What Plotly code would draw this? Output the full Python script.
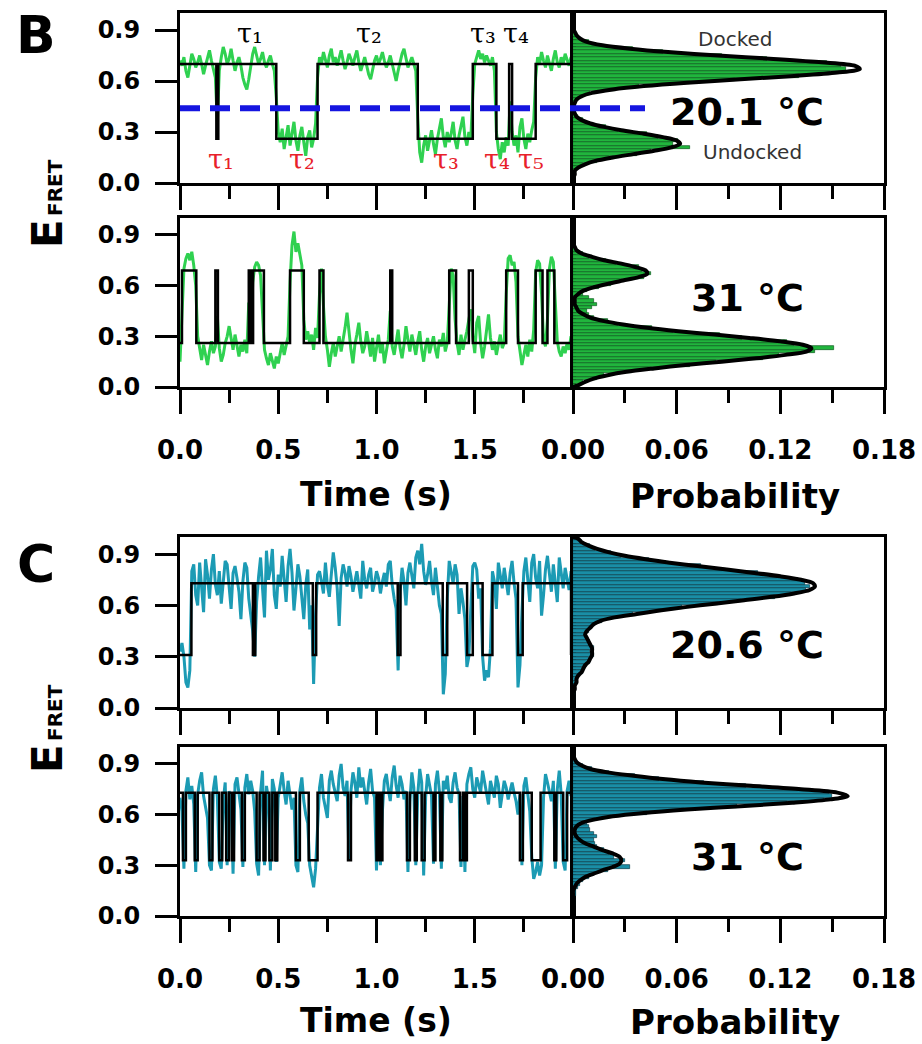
import plotly.graph_objects as go

W, H = 922, 1044
STEP = 0.01  # sampling interval of the smFRET traces (s)

# ---------------- Panel B (green) ----------------
b20_trace = [
    0.72, 0.69, 0.74, 0.66, 0.62, 0.70, 0.76, 0.73, 0.68, 0.71,
    0.75, 0.70, 0.64, 0.69, 0.74, 0.78, 0.72, 0.67, 0.62, 0.36,
    0.66, 0.74, 0.80, 0.76, 0.70, 0.73, 0.79, 0.72, 0.66, 0.71,
    0.74, 0.69, 0.62, 0.58, 0.55, 0.61, 0.68, 0.76, 0.80, 0.74,
    0.70, 0.73, 0.77, 0.71, 0.68, 0.72, 0.75, 0.70, 0.66, 0.50,
    0.30, 0.24, 0.32, 0.20, 0.27, 0.34, 0.22, 0.29, 0.36, 0.25,
    0.19, 0.28, 0.33, 0.24, 0.16, 0.27, 0.31, 0.21, 0.26, 0.35,
    0.62, 0.74, 0.70, 0.77, 0.72, 0.68, 0.75, 0.79, 0.71, 0.74,
    0.69, 0.73, 0.78, 0.72, 0.67, 0.71, 0.76, 0.73, 0.69, 0.74,
    0.78, 0.71, 0.66, 0.70, 0.74, 0.69, 0.64, 0.61, 0.67, 0.72,
    0.75, 0.70, 0.73, 0.77, 0.72, 0.68, 0.71, 0.75, 0.70, 0.65,
    0.60, 0.66, 0.72, 0.76, 0.79, 0.73, 0.68, 0.71, 0.74, 0.70,
    0.66, 0.38, 0.18, 0.12, 0.22, 0.28, 0.19, 0.25, 0.31, 0.23,
    0.17, 0.26, 0.33, 0.38, 0.27, 0.21, 0.30, 0.24, 0.29, 0.36,
    0.25, 0.20, 0.28, 0.34, 0.39, 0.27, 0.22, 0.30, 0.26, 0.52,
    0.70, 0.74, 0.78, 0.73, 0.76, 0.71, 0.75, 0.72, 0.69, 0.74,
    0.66, 0.30, 0.20, 0.14, 0.24, 0.18, 0.27, 0.22, 0.48, 0.30,
    0.22, 0.28, 0.18, 0.33, 0.38, 0.26, 0.20, 0.29, 0.24, 0.31,
    0.36, 0.62, 0.74, 0.70, 0.77, 0.72, 0.68, 0.75, 0.71, 0.66,
    0.73, 0.78, 0.71, 0.68, 0.74, 0.70, 0.76, 0.72, 0.69, 0.74,
]
b20_ideal_t = [0, 0.185, 0.195, 0.49, 0.70, 1.21, 1.49, 1.61, 1.675, 1.69, 1.81, 1.99]
b20_ideal_e = [0.70, 0.26, 0.70, 0.26, 0.70, 0.26, 0.70, 0.26, 0.70, 0.26, 0.70, 0.70]

b31_trace = [
    0.15, 0.40, 0.70, 0.76, 0.79, 0.75, 0.80, 0.72, 0.60, 0.30,
    0.22, 0.16, 0.25, 0.19, 0.13, 0.21, 0.27, 0.20, 0.24, 0.42,
    0.23, 0.15, 0.19, 0.26, 0.30, 0.36, 0.29, 0.22, 0.31, 0.24,
    0.18, 0.25, 0.21, 0.28, 0.20, 0.50, 0.30, 0.62, 0.71, 0.74,
    0.72, 0.66, 0.45, 0.22, 0.17, 0.13, 0.20, 0.15, 0.11, 0.18,
    0.14, 0.20, 0.26, 0.19, 0.24, 0.30, 0.62, 0.84, 0.92, 0.80,
    0.85, 0.78, 0.72, 0.40, 0.28, 0.33, 0.26, 0.31, 0.22, 0.35,
    0.29, 0.55, 0.70, 0.48, 0.30, 0.22, 0.12, 0.20, 0.26, 0.18,
    0.24, 0.30, 0.21, 0.27, 0.35, 0.44, 0.32, 0.22, 0.14, 0.25,
    0.31, 0.38, 0.27, 0.20, 0.24, 0.33, 0.26, 0.18, 0.29, 0.15,
    0.23, 0.31, 0.20, 0.26, 0.14, 0.22, 0.28, 0.45, 0.24, 0.19,
    0.27, 0.34, 0.23, 0.17, 0.25, 0.36, 0.28, 0.21, 0.31, 0.25,
    0.19, 0.27, 0.33, 0.22, 0.15, 0.24, 0.29, 0.20, 0.26, 0.30,
    0.22, 0.17, 0.28, 0.24, 0.32, 0.21, 0.26, 0.45, 0.70, 0.66,
    0.40, 0.26, 0.19, 0.31, 0.22, 0.28, 0.33, 0.40, 0.46, 0.30,
    0.20, 0.38, 0.42, 0.26, 0.17, 0.24, 0.34, 0.43, 0.29, 0.22,
    0.27, 0.19, 0.25, 0.31, 0.23, 0.26, 0.55, 0.76, 0.78, 0.72,
    0.74, 0.62, 0.30, 0.22, 0.13, 0.19, 0.25, 0.18, 0.28, 0.21,
    0.34, 0.68, 0.75, 0.73, 0.55, 0.28, 0.24, 0.40, 0.70, 0.77,
    0.74, 0.50, 0.27, 0.21, 0.18, 0.24, 0.20, 0.26, 0.22, 0.30,
]
b31_ideal_t = [0, 0.01, 0.083, 0.18, 0.193, 0.35, 0.362, 0.372, 0.427, 0.56, 0.63, 0.71,
               0.73, 1.07, 1.08, 1.37, 1.405, 1.47, 1.49, 1.66, 1.72, 1.81, 1.845, 1.87,
               1.905, 1.99]
b31_ideal_e = [0.26, 0.69, 0.26, 0.69, 0.26, 0.69, 0.26, 0.69, 0.26, 0.69, 0.26, 0.69,
               0.26, 0.69, 0.26, 0.69, 0.26, 0.69, 0.26, 0.69, 0.26, 0.69, 0.26, 0.69,
               0.26, 0.26]

# histogram bin centres (E_FRET) shared by all histograms
E_BINS = [round(0.01 + 0.02 * k, 2) for k in range(50)]

b20_hist = [
    0.000, 0.000, 0.001, 0.002, 0.004, 0.006, 0.014, 0.021, 0.037, 0.045,
    0.068, 0.058, 0.061, 0.049, 0.043, 0.026, 0.019, 0.009, 0.006, 0.003,
    0.002, 0.001, 0.001, 0.002, 0.003, 0.006, 0.010, 0.025, 0.038, 0.068,
    0.094, 0.131, 0.149, 0.158, 0.155, 0.147, 0.112, 0.086, 0.052, 0.035,
    0.016, 0.009, 0.004, 0.002, 0.001, 0.000, 0.000, 0.000, 0.000, 0.000,
]
b20_fit = [
    0.000, 0.000, 0.001, 0.001, 0.003, 0.007, 0.013, 0.023, 0.035, 0.047,
    0.057, 0.062, 0.060, 0.052, 0.041, 0.028, 0.018, 0.010, 0.005, 0.002,
    0.001, 0.000, 0.000, 0.001, 0.002, 0.005, 0.011, 0.023, 0.041, 0.066,
    0.097, 0.128, 0.153, 0.166, 0.163, 0.144, 0.116, 0.084, 0.055, 0.033,
    0.017, 0.008, 0.004, 0.002, 0.001, 0.000, 0.000, 0.000, 0.000, 0.000,
]
b31_hist = [
    0.002, 0.006, 0.014, 0.018, 0.034, 0.044, 0.068, 0.083, 0.110, 0.119,
    0.140, 0.151, 0.128, 0.124, 0.098, 0.085, 0.058, 0.046, 0.026, 0.020,
    0.012, 0.009, 0.008, 0.011, 0.014, 0.012, 0.009, 0.006, 0.008, 0.015,
    0.022, 0.027, 0.041, 0.045, 0.040, 0.038, 0.025, 0.019, 0.009, 0.006,
    0.002, 0.001, 0.000, 0.000, 0.000, 0.000, 0.000, 0.000, 0.000, 0.000,
]
b31_fit = [
    0.003, 0.007, 0.012, 0.020, 0.031, 0.047, 0.065, 0.086, 0.106, 0.123,
    0.135, 0.138, 0.133, 0.120, 0.102, 0.082, 0.061, 0.043, 0.029, 0.018,
    0.010, 0.006, 0.003, 0.002, 0.001, 0.001, 0.001, 0.003, 0.006, 0.012,
    0.020, 0.029, 0.038, 0.043, 0.042, 0.036, 0.028, 0.018, 0.011, 0.005,
    0.002, 0.001, 0.000, 0.000, 0.000, 0.000, 0.000, 0.000, 0.000, 0.000,
]

# ---------------- Panel C (teal) ----------------
c20_trace = [
    0.33, 0.38, 0.30, 0.15, 0.12, 0.22, 0.80, 0.84, 0.66, 0.60,
    0.85, 0.70, 0.56, 0.87, 0.78, 0.64, 0.81, 0.90, 0.72, 0.66,
    0.80, 0.61, 0.75, 0.86, 0.84, 0.70, 0.58, 0.79, 0.83, 0.76,
    0.68, 0.52, 0.74, 0.85, 0.82, 0.64, 0.55, 0.45, 0.30, 0.62,
    0.77, 0.88, 0.70, 0.53, 0.92, 0.75, 0.81, 0.93, 0.66, 0.58,
    0.78, 0.71, 0.89, 0.76, 0.62, 0.83, 0.93, 0.79, 0.57, 0.70,
    0.84, 0.77, 0.63, 0.52, 0.72, 0.81, 0.46, 0.60, 0.14, 0.55,
    0.78, 0.80, 0.74, 0.67, 0.85, 0.72, 0.65, 0.79, 0.91, 0.82,
    0.70, 0.48, 0.76, 0.84, 0.79, 0.71, 0.83, 0.77, 0.68, 0.74,
    0.80, 0.72, 0.64, 0.86, 0.75, 0.70, 0.78, 0.82, 0.68, 0.73,
    0.80, 0.76, 0.67, 0.74, 0.79, 0.71, 0.84, 0.86, 0.72, 0.64,
    0.58, 0.22, 0.68, 0.82, 0.74, 0.60, 0.79, 0.85, 0.76, 0.70,
    0.88, 0.92, 0.84, 0.96, 0.80, 0.72, 0.78, 0.86, 0.74, 0.66,
    0.82, 0.70, 0.60, 0.55, 0.08, 0.20, 0.64, 0.86, 0.80, 0.73,
    0.84, 0.78, 0.55, 0.70, 0.62, 0.52, 0.24, 0.30, 0.58, 0.83,
    0.85, 0.81, 0.64, 0.70, 0.30, 0.16, 0.22, 0.18, 0.35, 0.80,
    0.74, 0.58, 0.85, 0.77, 0.70, 0.82, 0.75, 0.66, 0.79, 0.86,
    0.73, 0.64, 0.12, 0.25, 0.56, 0.80, 0.88, 0.74, 0.62, 0.85,
    0.90, 0.76, 0.70, 0.86, 0.54, 0.66, 0.81, 0.89, 0.77, 0.68,
    0.84, 0.71, 0.62, 0.88, 0.78, 0.70, 0.82, 0.75, 0.69, 0.80,
]
c20_ideal_t = [0, 0.058, 0.371, 0.383, 0.676, 0.693, 1.108, 1.122, 1.337, 1.36,
               1.461, 1.49, 1.54, 1.59, 1.72, 1.744, 1.99]
c20_ideal_e = [0.31, 0.73, 0.31, 0.73, 0.31, 0.73, 0.31, 0.73, 0.31, 0.73,
               0.31, 0.73, 0.31, 0.73, 0.31, 0.73, 0.31]

c31_trace = [
    0.70, 0.62, 0.28, 0.74, 0.82, 0.69, 0.77, 0.66, 0.26, 0.72,
    0.80, 0.85, 0.71, 0.64, 0.58, 0.30, 0.27, 0.75, 0.83, 0.70,
    0.32, 0.28, 0.68, 0.79, 0.30, 0.74, 0.66, 0.25, 0.78, 0.82,
    0.71, 0.63, 0.29, 0.76, 0.84, 0.72, 0.80, 0.74, 0.62, 0.31,
    0.24, 0.73, 0.86, 0.30, 0.77, 0.69, 0.27, 0.81, 0.75, 0.32,
    0.70, 0.78, 0.85, 0.74, 0.66, 0.80, 0.72, 0.63, 0.70, 0.30,
    0.26, 0.74, 0.82, 0.68, 0.60, 0.55, 0.30, 0.22, 0.17, 0.28,
    0.50, 0.76, 0.84, 0.70, 0.64, 0.58, 0.80, 0.86, 0.78, 0.72,
    0.68, 0.83, 0.90, 0.76, 0.71, 0.80, 0.33, 0.74, 0.85, 0.79,
    0.70, 0.88, 0.76, 0.82, 0.73, 0.66, 0.79, 0.87, 0.74, 0.70,
    0.27, 0.71, 0.30, 0.62, 0.80, 0.84, 0.75, 0.68, 0.82, 0.89,
    0.77, 0.70, 0.83, 0.78, 0.69, 0.74, 0.26, 0.68, 0.85, 0.76,
    0.30, 0.72, 0.87, 0.79, 0.24, 0.70, 0.84, 0.77, 0.71, 0.31,
    0.78, 0.86, 0.74, 0.28, 0.80, 0.75, 0.83, 0.70, 0.67, 0.79,
    0.85, 0.76, 0.72, 0.29, 0.71, 0.26, 0.78, 0.84, 0.88, 0.75,
    0.70, 0.82, 0.77, 0.73, 0.86, 0.79, 0.71, 0.66, 0.80, 0.75,
    0.70, 0.83, 0.78, 0.64, 0.72, 0.80, 0.76, 0.69, 0.74, 0.79,
    0.73, 0.68, 0.60, 0.72, 0.30, 0.77, 0.82, 0.70, 0.62, 0.35,
    0.22, 0.26, 0.32, 0.24, 0.30, 0.70, 0.84, 0.79, 0.73, 0.68,
    0.80, 0.28, 0.75, 0.86, 0.72, 0.32, 0.27, 0.74, 0.80, 0.71,
]
c31_ideal_t = [0, 0.015, 0.03, 0.075, 0.09, 0.15, 0.165, 0.20, 0.215, 0.235, 0.25,
               0.265, 0.275, 0.315, 0.33, 0.39, 0.405, 0.425, 0.435, 0.455, 0.47,
               0.485, 0.495, 0.59, 0.61, 0.655, 0.70, 0.855, 0.87, 1.0, 1.012,
               1.02, 1.03, 1.155, 1.17, 1.195, 1.205, 1.23, 1.245, 1.29, 1.30,
               1.325, 1.335, 1.425, 1.44, 1.45, 1.46, 1.73, 1.745, 1.79, 1.835,
               1.905, 1.915, 1.95, 1.97, 1.99]
c31_ideal_e = [0.73, 0.33, 0.73, 0.33, 0.73, 0.33, 0.73, 0.33, 0.73, 0.33, 0.73,
               0.33, 0.73, 0.33, 0.73, 0.33, 0.73, 0.33, 0.73, 0.33, 0.73,
               0.33, 0.73, 0.33, 0.73, 0.33, 0.73, 0.33, 0.73, 0.33, 0.73,
               0.33, 0.73, 0.33, 0.73, 0.33, 0.73, 0.33, 0.73, 0.33, 0.73,
               0.33, 0.73, 0.33, 0.73, 0.33, 0.73, 0.33, 0.73, 0.33, 0.73,
               0.33, 0.73, 0.33, 0.73, 0.73]

c20_hist = [
    0.000, 0.000, 0.001, 0.001, 0.001, 0.002, 0.002, 0.003, 0.003, 0.004,
    0.006, 0.005, 0.008, 0.010, 0.009, 0.012, 0.010, 0.012, 0.009, 0.010,
    0.008, 0.007, 0.009, 0.011, 0.013, 0.017, 0.025, 0.035, 0.051, 0.063,
    0.084, 0.097, 0.117, 0.126, 0.135, 0.137, 0.134, 0.130, 0.118, 0.107,
    0.087, 0.074, 0.054, 0.044, 0.028, 0.022, 0.013, 0.010, 0.005, 0.003,
]
c20_fit = [
    0.000, 0.000, 0.000, 0.000, 0.000, 0.001, 0.001, 0.002, 0.002, 0.003,
    0.005, 0.006, 0.007, 0.009, 0.010, 0.011, 0.011, 0.011, 0.010, 0.009,
    0.008, 0.007, 0.008, 0.010, 0.012, 0.016, 0.024, 0.037, 0.050, 0.065,
    0.082, 0.099, 0.115, 0.128, 0.137, 0.140, 0.139, 0.132, 0.120, 0.105,
    0.089, 0.072, 0.056, 0.042, 0.030, 0.021, 0.014, 0.009, 0.005, 0.003,
]
c31_hist = [
    0.000, 0.000, 0.000, 0.001, 0.001, 0.001, 0.002, 0.002, 0.003, 0.004,
    0.006, 0.009, 0.013, 0.020, 0.033, 0.027, 0.030, 0.024, 0.021, 0.018,
    0.014, 0.013, 0.012, 0.014, 0.012, 0.010, 0.009, 0.008, 0.013, 0.022,
    0.043, 0.064, 0.095, 0.124, 0.145, 0.150, 0.148, 0.130, 0.100, 0.076,
    0.050, 0.036, 0.021, 0.011, 0.006, 0.003, 0.001, 0.000, 0.000, 0.000,
]
c31_fit = [
    0.000, 0.000, 0.000, 0.000, 0.000, 0.000, 0.000, 0.000, 0.001, 0.002,
    0.004, 0.007, 0.012, 0.017, 0.023, 0.027, 0.028, 0.027, 0.023, 0.017,
    0.012, 0.007, 0.004, 0.002, 0.001, 0.001, 0.002, 0.005, 0.012, 0.023,
    0.041, 0.066, 0.097, 0.127, 0.149, 0.159, 0.153, 0.132, 0.103, 0.074,
    0.052, 0.035, 0.020, 0.010, 0.005, 0.002, 0.001, 0.000, 0.000, 0.000,
]

THRESHOLD = 0.44  # docked / undocked threshold (blue dashed line)
TEMPS = ["20.1 °C", "31 °C", "20.6 °C", "31 °C"]

TIME_TICKS = [0, 0.5, 1.0, 1.5]
TIME_LABELS = ["0.0", "0.5", "1.0", "1.5"]
TIME_MINOR = [0.25, 0.75, 1.25, 1.75]
PROB_TICKS = [0, 0.06, 0.12, 0.18]
PROB_LABELS = ["0.00", "0.06", "0.12", "0.18"]
PROB_MINOR = [0.03, 0.09, 0.15]
E_TICKS = [0, 0.3, 0.6, 0.9]
E_LABELS = ["0.0", "0.3", "0.6", "0.9"]

GREEN_TRACE = "#2fd150"
GREEN_HIST = "#21b53d"
GREEN_EDGE = "#0f5a1f"
TEAL_TRACE = "#1c9bb4"
TEAL_HIST = "#1a8ea6"
TEAL_EDGE = "#0a3e49"

rows = [
    dict(trace=b20_trace, it=b20_ideal_t, ie=b20_ideal_e, hist=b20_hist, fit=b20_fit,
         tc=GREEN_TRACE, hc=GREEN_HIST, he=GREEN_EDGE, px=(13, 183)),
    dict(trace=b31_trace, it=b31_ideal_t, ie=b31_ideal_e, hist=b31_hist, fit=b31_fit,
         tc=GREEN_TRACE, hc=GREEN_HIST, he=GREEN_EDGE, px=(218, 387)),
    dict(trace=c20_trace, it=c20_ideal_t, ie=c20_ideal_e, hist=c20_hist, fit=c20_fit,
         tc=TEAL_TRACE, hc=TEAL_HIST, he=TEAL_EDGE, px=(537, 708)),
    dict(trace=c31_trace, it=c31_ideal_t, ie=c31_ideal_e, hist=c31_hist, fit=c31_fit,
         tc=TEAL_TRACE, hc=TEAL_HIST, he=TEAL_EDGE, px=(747, 916)),
]

X_TRACE = [180 / W, 573 / W]
X_HIST = [573 / W, 884 / W]

FONT = "DejaVu Sans"


def ref(n, a):
    return a if n == 1 else f"{a}{n}"


def key(n, a):
    return f"{a}axis" if n == 1 else f"{a}axis{n}"


fig = go.Figure()
layout = {}
annotations = []

for i, r in enumerate(rows):
    na, nb = 2 * i + 1, 2 * i + 2
    times = [round(k * STEP, 2) for k in range(len(r["trace"]))]
    fig.add_trace(go.Scatter(x=times, y=r["trace"], mode="lines",
                             line=dict(color=r["tc"], width=3),
                             xaxis=ref(na, "x"), yaxis=ref(na, "y"), showlegend=False))
    fig.add_trace(go.Scatter(x=r["it"], y=r["ie"], mode="lines",
                             line=dict(color="black", width=2.5, shape="hv"),
                             xaxis=ref(na, "x"), yaxis=ref(na, "y"), showlegend=False))
    fig.add_trace(go.Bar(y=E_BINS, x=r["hist"], orientation="h", width=0.02,
                         marker=dict(color=r["hc"], line=dict(color=r["he"], width=0.7)),
                         xaxis=ref(nb, "x"), yaxis=ref(nb, "y"), showlegend=False))
    fig.add_trace(go.Scatter(x=[0] + r["fit"] + [0], y=[0] + E_BINS + [1.0], mode="lines",
                             line=dict(color="black", width=4, shape="spline", smoothing=0.8),
                             xaxis=ref(nb, "x"), yaxis=ref(nb, "y"), showlegend=False))

    top, bot = r["px"]
    ydom = [1 - bot / H, 1 - top / H]
    bottom_row = i in (1, 3)
    common = dict(showline=True, linewidth=3, linecolor="black", mirror=True,
                  showgrid=False, zeroline=False, automargin=False)
    xtick = dict(family=FONT, size=26, color="black", weight="bold")
    layout[key(na, "x")] = dict(
        domain=X_TRACE, anchor=ref(na, "y"), range=[0, 2.0],
        tickmode="array", tickvals=TIME_TICKS, ticktext=TIME_LABELS,
        showticklabels=bottom_row, ticks="outside", ticklen=24, tickwidth=3,
        tickcolor="black", tickfont=xtick, ticklabelstandoff=14,
        minor=dict(tickmode="array", tickvals=TIME_MINOR, ticks="outside",
                   ticklen=13, tickwidth=3, tickcolor="black"),
        **common)
    layout[key(na, "y")] = dict(
        domain=ydom, anchor=ref(na, "x"), range=[0, 1.0],
        tickmode="array", tickvals=E_TICKS, ticktext=E_LABELS,
        ticks="outside", ticklen=22, tickwidth=3, tickcolor="black",
        tickfont=dict(family=FONT, size=24, color="black", weight="bold"),
        ticklabelstandoff=10, **common)
    layout[key(nb, "x")] = dict(
        domain=X_HIST, anchor=ref(nb, "y"), range=[0, 0.18],
        tickmode="array", tickvals=PROB_TICKS, ticktext=PROB_LABELS,
        showticklabels=bottom_row, ticks="outside", ticklen=24, tickwidth=3,
        tickcolor="black", tickfont=xtick, ticklabelstandoff=14,
        minor=dict(tickmode="array", tickvals=PROB_MINOR, ticks="outside",
                   ticklen=13, tickwidth=3, tickcolor="black"),
        **common)
    layout[key(nb, "y")] = dict(
        domain=ydom, anchor=ref(nb, "x"), range=[0, 1.0],
        showticklabels=False, ticks="", **common)

    # temperature label inside the histogram panel
    annotations.append(dict(
        text=TEMPS[i], xref="paper", yref="paper", x=747 / W,
        y=1 - [112, 298, 645, 857][i] / H, xanchor="center", yanchor="middle",
        showarrow=False, font=dict(family=FONT, size=38, color="black", weight="bold")))


def px(x, y):
    return x / W, 1 - y / H


def label(text, x, y, size, bold=True, angle=0, color="black", family=FONT):
    xx, yy = px(x, y)
    annotations.append(dict(
        text=text, xref="paper", yref="paper", x=xx, y=yy, xanchor="center",
        yanchor="middle", showarrow=False, textangle=angle,
        font=dict(family=family, size=size, color=color,
                  weight="bold" if bold else "normal")))


# panel letters
label("B", 36, 35, 52)
label("C", 36, 564, 52)
# y-axis titles E_FRET
for off in (0, 525):
    label("E", 47, 234 + off, 42, angle=-90)
    label("FRET", 55, 188 + off, 20, angle=-90)
# x-axis titles
for yy in (494, 1020):
    label("Time (s)", 376, yy, 33)
    label("Probability", 735, yy + 2, 34)
# state labels
label("Docked", 735, 39, 20, bold=False, color="#333333")
label("Undocked", 752, 152, 20, bold=False, color="#333333")

# dwell-time labels on the first trace (data coordinates)
SUBS = ["₁", "₂", "₃", "₄", "₅"]
TAU_DOCKED_T = [0.358, 0.96, 1.54, 1.71]
TAU_UNDOCKED_T = [0.208, 0.62, 1.353, 1.613, 1.785]
for k, tt in enumerate(TAU_DOCKED_T):
    annotations.append(dict(text="τ" + SUBS[k], x=tt, y=0.88, xref="x", yref="y",
                            showarrow=False, xanchor="center", yanchor="middle",
                            font=dict(family="DejaVu Serif", size=27, color="black")))
for k, tt in enumerate(TAU_UNDOCKED_T):
    annotations.append(dict(text="τ" + SUBS[k], x=tt, y=0.14, xref="x", yref="y",
                            showarrow=False, xanchor="center", yanchor="middle",
                            font=dict(family="DejaVu Serif", size=27, color="#e8202a")))

fig.add_shape(type="line", xref="paper", yref="y", x0=180 / W, x1=645 / W,
              y0=THRESHOLD, y1=THRESHOLD, layer="above",
              line=dict(color="#1515e0", width=6, dash="20px,10px"))

fig.update_layout(
    width=W, height=H, margin=dict(l=0, r=0, t=0, b=0),
    paper_bgcolor="white", plot_bgcolor="white", bargap=0,
    annotations=annotations, showlegend=False, **layout)

fig.write_html("out.html")
